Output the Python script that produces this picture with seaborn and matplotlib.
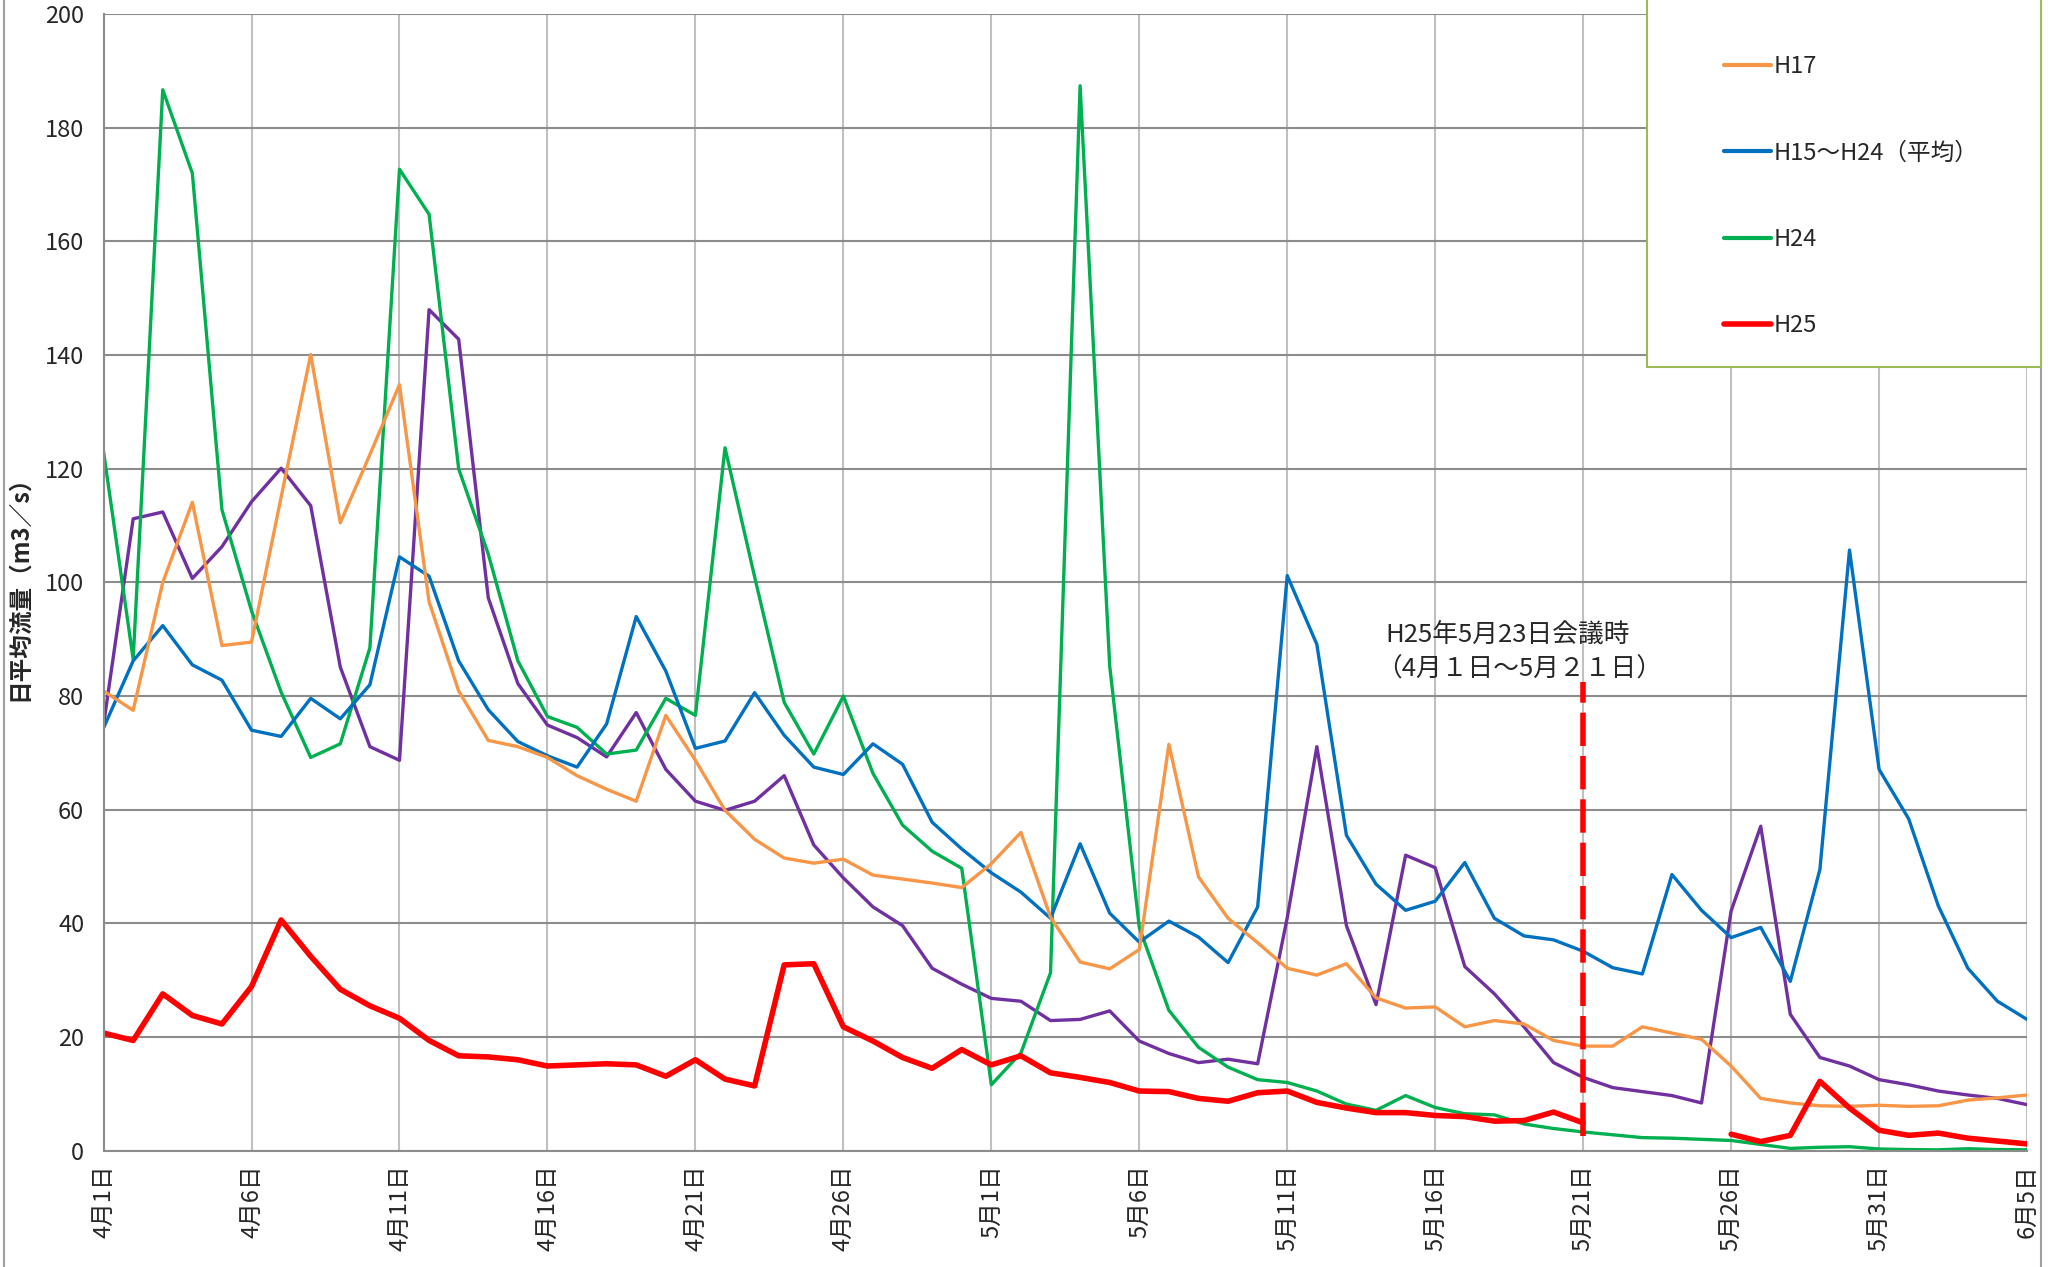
import numpy as np
import pandas as pd
import matplotlib
matplotlib.use("Agg")
import matplotlib.pyplot as plt
from matplotlib.patches import Rectangle
from matplotlib.lines import Line2D
import seaborn as sns

# day index 0 = 4月1日 ... 65 = 6月5日
day = np.arange(66)
tick_pos = np.arange(0, 66, 5)
tick_labels = ['4月1日', '4月6日', '4月11日', '4月16日', '4月21日', '4月26日', '5月1日',
               '5月6日', '5月11日', '5月16日', '5月21日', '5月26日', '5月31日', '6月5日']

h17 = [80.9, 77.5, 100.0, 114.1, 88.9, 89.5, 115.0, 140.1, 110.5, 122.5, 134.8, 96.6, 80.9, 72.2,
       71.1, 69.2, 66.0, 63.6, 61.5, 76.6, 68.7, 59.9, 54.8, 51.5, 50.6, 51.3, 48.5, 47.8, 47.1,
       46.3, 50.5, 56.0, 41.1, 33.2, 32.0, 35.4, 71.5, 48.2, 40.9, 36.6, 32.1, 30.9, 32.9, 26.9,
       25.1, 25.3, 21.8, 22.9, 22.3, 19.4, 18.4, 18.4, 21.8, 20.7, 19.6, 14.9, 9.2, 8.4, 7.9,
       7.8, 8.0, 7.8, 7.9, 8.9, 9.3, 9.8]

h15_24 = [74.4, 86.2, 92.4, 85.5, 82.8, 74.0, 72.9, 79.6, 76.0, 82.0, 104.5, 101.1, 86.2, 77.6,
          72.0, 69.5, 67.5, 75.1, 94.0, 84.4, 70.8, 72.1, 80.6, 73.1, 67.5, 66.2, 71.6, 68.0,
          57.8, 53.1, 48.9, 45.5, 40.9, 54.0, 41.8, 36.7, 40.4, 37.6, 33.1, 42.9, 101.2, 89.1,
          55.5, 46.9, 42.3, 43.9, 50.7, 40.9, 37.8, 37.1, 35.1, 32.2, 31.1, 48.6, 42.3, 37.5,
          39.3, 29.8, 49.5, 105.7, 67.1, 58.4, 43.1, 32.1, 26.3, 23.1]

h24 = [123.0, 86.5, 186.7, 172.0, 112.8, 95.0, 80.7, 69.2, 71.6, 88.5, 172.7, 164.8, 120.0,
       105.0, 86.2, 76.4, 74.5, 69.8, 70.5, 79.6, 76.6, 123.7, 101.0, 78.9, 69.8, 80.0, 66.4,
       57.3, 52.7, 49.7, 11.6, 17.2, 31.3, 187.4, 85.3, 39.3, 24.7, 18.2, 14.7, 12.5, 12.0,
       10.5, 8.2, 7.1, 9.7, 7.6, 6.5, 6.3, 4.7, 3.9, 3.3, 2.8, 2.3, 2.2, 2.0, 1.8, 1.1, 0.4,
       0.6, 0.7, 0.3, 0.2, 0.15, 0.35, 0.2, 0.15]

h25 = [20.7, 19.4, 27.6, 23.8, 22.3, 28.9, 40.6, 34.2, 28.4, 25.5, 23.3, 19.4, 16.7, 16.5,
       16.0, 14.9, 15.1, 15.3, 15.1, 13.1, 16.0, 12.6, 11.4, 32.7, 32.9, 21.8, 19.3, 16.4,
       14.5, 17.8, 15.1, 16.7, 13.7, 12.9, 12.0, 10.5, 10.4, 9.2, 8.7, 10.2, 10.5, 8.5, 7.5,
       6.7, 6.7, 6.2, 6.0, 5.2, 5.3, 6.8, 4.9, np.nan, np.nan, np.nan, np.nan, 2.9, 1.6, 2.7,
       12.2, 7.5, 3.6, 2.7, 3.1, 2.2, 1.7, 1.2]

other = [75.0, 111.2, 112.4, 100.7, 106.3, 114.2, 120.1, 113.5, 85.1, 71.1, 68.7, 148.0, 142.8,
         97.3, 82.2, 74.9, 72.7, 69.3, 77.1, 67.1, 61.5, 59.9, 61.5, 66.0, 53.8, 48.0, 42.9,
         39.6, 32.1, 29.3, 26.8, 26.3, 22.9, 23.1, 24.6, 19.3, 17.1, 15.5, 16.1, 15.3, 41.0,
         71.1, 39.6, 25.7, 52.0, 49.8, 32.4, 27.6, 21.8, 15.5, 12.9, 11.1, 10.4, 9.7, 8.4, 42.2,
         57.1, 24.0, 16.4, 14.9, 12.5, 11.6, 10.5, 9.8, 9.2, 8.1]

meeting_day = 50  # 5月21日

sns.set_theme(style="white")
plt.rcParams['font.family'] = ['Noto Sans CJK JP', 'DejaVu Sans']

fig = plt.figure(figsize=(20.55, 12.67), dpi=100)
ax = fig.add_axes([0.0504, 0.0918, 0.936, 0.897])

df = pd.DataFrame({'day': day, 'H17': h17, 'H15～H24（平均）': h15_24, 'H24': h24,
                   'H25': h25, 'other': other})

sns.lineplot(data=df, x='day', y='other', ax=ax, color='#7030A0', lw=2.4)
sns.lineplot(data=df, x='day', y='H24', ax=ax, color='#00B050', lw=2.4)
sns.lineplot(data=df, x='day', y='H15～H24（平均）', ax=ax, color='#0070C0', lw=2.4)
sns.lineplot(data=df, x='day', y='H17', ax=ax, color='#F79646', lw=2.4)
sns.lineplot(data=df[df.day <= meeting_day], x='day', y='H25', ax=ax, color='#FF0000', lw=4)
sns.lineplot(data=df[df.day > meeting_day + 4], x='day', y='H25', ax=ax, color='#FF0000', lw=4)

ax.vlines(meeting_day, 2.5, 82.5, colors='#FF0000', linestyles=(0, (6, 1.8)), lw=4, zorder=5)
ax.text(43.3, 90.7, 'H25年5月23日会議時', fontsize=18.5, va='center', ha='left')
ax.text(43.0, 84.7, '（4月１日～5月２１日）', fontsize=18.5, va='center', ha='left')

ax.set_xlim(0, 65)
ax.set_ylim(0, 200)
ax.set_yticks(np.arange(0, 201, 20))
ax.set_xticks(tick_pos)
ax.set_xticklabels(tick_labels, rotation=90, fontsize=17)
ax.tick_params(axis='y', labelsize=17, length=0, pad=14)
ax.tick_params(axis='x', length=0, pad=10)
ax.set_xlabel('')
ax.set_ylabel('日平均流量（m3／s）', fontsize=17, fontweight='bold', labelpad=10)

ax.yaxis.grid(True, color='#8C8C8C', lw=1.5)
ax.xaxis.grid(True, color='#C0C0C0', lw=1.5)
for s in ['top', 'right']:
    ax.spines[s].set_visible(False)
for s in ['left', 'bottom']:
    ax.spines[s].set_color('#8C8C8C')
    ax.spines[s].set_linewidth(1.5)

# outer chart border lines
fig.add_artist(Line2D([4 / 2055, 4 / 2055], [0, 1], color='#A0A0A0', lw=1.5))
fig.add_artist(Line2D([2041 / 2055, 2041 / 2055], [0, 1], color='#A0A0A0', lw=1.5))

# legend box (top runs off the figure)
fig.add_artist(Rectangle((1647 / 2055, 1 - 367 / 1267), 394 / 2055, 400 / 1267,
                         facecolor='white', edgecolor='#9BBB59', lw=1.5, zorder=10))
handles = [Line2D([], [], color='#F79646', lw=3), Line2D([], [], color='#0070C0', lw=3),
           Line2D([], [], color='#00B050', lw=3), Line2D([], [], color='#FF0000', lw=4)]
labels = ['H17', 'H15～H24（平均）', 'H24', 'H25']
leg = fig.legend(handles, labels, loc='upper left', bbox_to_anchor=(1703 / 2055, 1 - 34 / 1267),
                 frameon=False, fontsize=17, labelspacing=2.68, handlelength=2.0,
                 handletextpad=0.1)
leg.set_zorder(11)

fig.savefig('out.png', dpi=100)
